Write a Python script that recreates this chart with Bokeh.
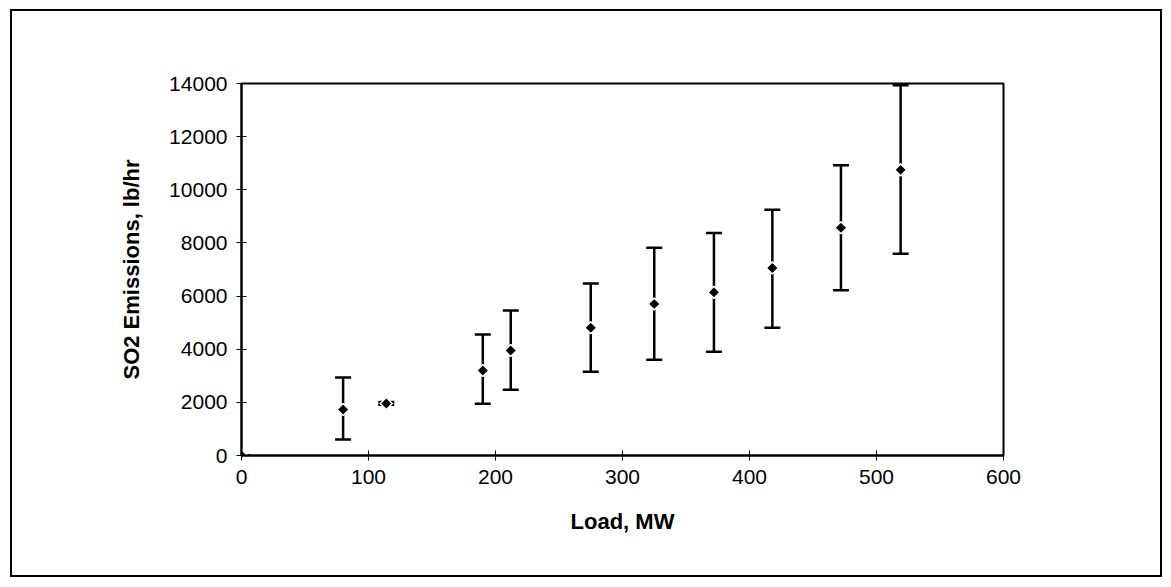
from bokeh.plotting import figure
from bokeh.models import ColumnDataSource, Whisker, TeeHead, FixedTicker, Range1d
from bokeh.embed import file_html
from bokeh.resources import INLINE
import numpy as np

# Data
load_mw = [0, 80, 114, 190, 212, 275, 325, 372, 418, 472, 519]
so2_lb_hr = [0, 1730, 1960, 3200, 3950, 4810, 5700, 6140, 7060, 8570, 10750]
so2_upper = [0, 2940, 2010, 4550, 5460, 6470, 7820, 8370, 9250, 10920, 13930]
so2_lower = [0, 600, 1910, 1950, 2470, 3150, 3600, 3900, 4810, 6220, 7590]
x_ticks = [0, 100, 200, 300, 400, 500, 600]
y_ticks = [0, 2000, 4000, 6000, 8000, 10000, 12000, 14000]
x_title = "Load, MW"
y_title = "SO2 Emissions, lb/hr"

src = ColumnDataSource(dict(x=load_mw, y=so2_lb_hr, upper=so2_upper, lower=so2_lower))

p = figure(width=1171, height=587, output_backend="svg", toolbar_location=None,
           x_range=Range1d(0, 600), y_range=Range1d(0, 14000),
           min_border_left=241, min_border_right=168, min_border_top=83, min_border_bottom=132)
p.background_fill_color = "white"
p.border_fill_color = "white"
p.outline_line_color = "black"
p.outline_line_width = 2
p.grid.visible = False
# outer page frame of the original figure
p.stylesheets = [":host { position: relative; } :host::after { content: ''; position: absolute; "
                 "left: 10px; top: 9px; right: 9px; bottom: 10px; border: 2px solid black; "
                 "pointer-events: none; z-index: 1000; }"]

for ax in (p.xaxis[0], p.yaxis[0]):
    ax.axis_line_color = "black"
    ax.axis_line_width = 2
    ax.major_tick_in = 5
    ax.major_tick_out = 5
    ax.major_tick_line_color = "black"
    ax.major_tick_line_width = 1
    ax.minor_tick_line_color = None
    ax.major_label_text_font = "Liberation Sans"
    ax.major_label_text_font_size = "21px"
    ax.major_label_text_color = "black"
    ax.axis_label_text_font = "Liberation Sans"
    ax.axis_label_text_font_size = "22px"
    ax.axis_label_text_font_style = "bold"
    ax.axis_label_text_color = "black"

p.xaxis.ticker = FixedTicker(ticks=x_ticks)
p.yaxis.ticker = FixedTicker(ticks=y_ticks)
p.xaxis.axis_label = x_title
p.yaxis.axis_label = y_title
p.xaxis.major_label_standoff = 9
p.yaxis.major_label_standoff = 9
p.xaxis.axis_label_standoff = 22
p.yaxis.axis_label_standoff = 22

w = Whisker(base="x", upper="upper", lower="lower", dimension="height", source=src,
            line_color="black", line_width=2.5,
            upper_head=TeeHead(size=16, line_color="black", line_width=2.5),
            lower_head=TeeHead(size=16, line_color="black", line_width=2.5))
p.add_layout(w)

p.scatter("x", "y", source=src, marker="square", angle=np.pi / 4, size=8.5,
          fill_color="black", line_color="white", line_width=1.5)

open("out.html", "w").write(file_html(p, INLINE))
